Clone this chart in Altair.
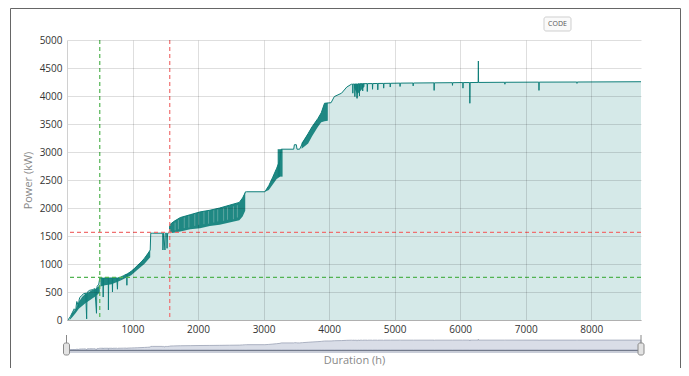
import altair as alt
import pandas as pd

# ---- main duration curve (top edge, with individual dips/spikes) ----
line_h = [0, 15, 50, 80, 110, 135, 140, 150, 175, 185, 195, 225, 255, 285, 300, 305, 310, 345, 385, 405,
          425, 450, 455, 460, 485, 500, 510,
          550, 552, 556, 630, 632, 636, 690, 694, 698, 760, 770, 775, 810,
          860, 910, 914, 918, 980, 1030, 1080, 1130, 1180, 1230, 1270, 1278,
          1300, 1460, 1464, 1475, 1495, 1500, 1520, 1527, 1535, 1562, 1568,
          1630, 1730, 1880, 2030, 2180, 2330, 2480, 2630, 2680, 2710, 2725,
          2740, 3020, 3080, 3140, 3200, 3250, 3270,
          3460, 3470, 3500, 3510, 3550, 3595, 3680, 3740, 3830, 3880, 3930, 4030, 4080, 4190, 4270, 4340,
          4360, 4362, 4365, 4390, 4393, 4398, 4420, 4423, 4430, 4435, 4460, 4463, 4467, 4510, 4513, 4517,
          4580, 4583, 4587, 4660, 4663, 4667, 4740, 4743, 4747, 4830, 4833, 4837, 4930, 4933, 4937,
          5080, 5083, 5087, 5280, 5283, 5287, 5600, 5603, 5607, 5880, 5883, 5887, 6040, 6043, 6047,
          6145, 6148, 6152, 6275, 6278, 6281, 6680, 6683, 6687, 7200, 7203, 7207, 7780, 7783, 7787, 8760]
line_p = [0, 0, 60, 130, 200, 170, 250, 330, 240, 360, 400, 440, 470, 480, 20, 480, 500, 530, 540, 550,
          560, 120, 560, 600, 640, 750, 750,
          750, 410, 750, 750, 180, 750, 750, 500, 750, 750, 550, 750, 760,
          790, 820, 620, 820, 870, 920, 980, 1030, 1100, 1180, 1250, 1550,
          1550, 1550, 1250, 1550, 1250, 1550, 1550, 1280, 1550, 1560, 1700,
          1760, 1830, 1880, 1930, 1960, 2000, 2050, 2100, 2180, 2250, 2290,
          2290, 2290, 2400, 2550, 2710, 2860, 3050,
          3050, 3130, 3130, 3050, 3050, 3160, 3330, 3450, 3600, 3700, 3870, 3880, 3990, 4050, 4160, 4210,
          4212, 4050, 4212, 4214, 3990, 4214, 4216, 3960, 3960, 4216, 4218, 4000, 4218, 4220, 4090, 4220,
          4221, 4080, 4221, 4222, 4120, 4222, 4224, 4110, 4224, 4225, 4140, 4225, 4227, 4160, 4227,
          4230, 4170, 4230, 4232, 4180, 4232, 4235, 4100, 4235, 4238, 4190, 4238, 4240, 4140, 4240,
          4240, 3870, 4240, 4242, 4625, 4242, 4245, 4210, 4245, 4248, 4100, 4248, 4250, 4225, 4250, 4255]

# ---- dense (noisy) bands: lower and upper envelope ----
band_grp = [1] * 11 + [2] * 4 + [3] * 6 + [4] * 11 + [5] * 5 + [6] * 2 + [7] * 7 + [8] * 4
band_h = [40, 80, 130, 180, 230, 280, 330, 380, 430, 480, 500,
          510, 580, 680, 810,
          810, 880, 980, 1080, 1180, 1270,
          1568, 1630, 1730, 1880, 2030, 2180, 2330, 2480, 2630, 2680, 2720,
          3020, 3080, 3140, 3200, 3250,
          3215, 3290,
          3580, 3680, 3740, 3830, 3880, 3930, 3980,
          4380, 4430, 4470, 4540]
band_lo = [0, 50, 120, 200, 250, 300, 340, 380, 420, 470, 500,
           600, 620, 640, 700,
           700, 740, 800, 900, 1000, 1120,
           1550, 1560, 1580, 1620, 1640, 1680, 1700, 1740, 1780, 1850, 1950,
           2290, 2320, 2420, 2520, 2560,
           2560, 2560,
           3060, 3150, 3280, 3450, 3530, 3550, 3560,
           4150, 4030, 4080, 4170]
band_hi = [20, 130, 190, 320, 410, 470, 495, 530, 555, 600, 640,
           750, 750, 750, 760,
           760, 800, 870, 980, 1100, 1250,
           1700, 1760, 1830, 1880, 1930, 1960, 2000, 2050, 2100, 2180, 2290,
           2290, 2400, 2550, 2710, 2860,
           3050, 3050,
           3160, 3330, 3450, 3600, 3700, 3870, 3880,
           4214, 4216, 4218, 4220]

# ---- light streaks inside the dense band (dips that show the fill) ----
streak_h = [1650, 1700, 1790, 1860, 1950, 2010, 2090, 2160, 2240, 2300, 2390, 2450, 2540, 2600]
streak_lo = [1600, 1620, 1640, 1650, 1680, 1700, 1710, 1720, 1740, 1760, 1770, 1790, 1800, 1830]
streak_hi = [1740, 1790, 1830, 1860, 1890, 1910, 1930, 1945, 1960, 1975, 1995, 2010, 2030, 2050]

# ---- reference lines ----
green_v, red_v = 500, 1568
green_h, red_h = 760, 1565

x_ticks = [1000, 2000, 3000, 4000, 5000, 6000, 7000, 8000]
y_ticks = [0, 500, 1000, 1500, 2000, 2500, 3000, 3500, 4000, 4500, 5000]

TEAL = "#0f7f7a"
FILL = "#d5e9e8"
GREEN = "#52b452"
RED = "#f07070"
FONT = "Open Sans"

line_df = pd.DataFrame({"h": line_h, "p": line_p})
band_df = pd.DataFrame({"g": band_grp, "h": band_h, "lo": band_lo, "hi": band_hi})
streak_df = pd.DataFrame({"h": streak_h, "lo": streak_lo, "hi": streak_hi})

xs = alt.Scale(domain=[0, 8760], nice=False, zero=False)
ys = alt.Scale(domain=[0, 5000], nice=False)

xaxis = alt.Axis(values=x_ticks, format="d", title="Duration (h)", grid=True,
                 gridColor="rgba(0,0,0,0.13)",
                 ticks=False, domainColor="#b0b0b0", labelPadding=4, labelFontSize=10,
                 labelColor="#333", labelFont=FONT, titleFont=FONT, titleFontSize=11,
                 titleFontWeight="normal", titleColor="#888", titlePadding=20, zindex=1)
yaxis = alt.Axis(values=y_ticks, format="d", title="Power (kW)", grid=True,
                 gridColor="rgba(0,0,0,0.13)", labelOverlap=False,
                 ticks=False, domainColor="#d0d0d0", labelPadding=5, labelFontSize=10,
                 labelColor="#333", labelFont=FONT, titleFont=FONT, titleFontSize=11,
                 titleFontWeight="normal", titleColor="#888", titlePadding=6, zindex=1)

X = alt.X("h:Q", scale=xs, axis=xaxis)

area = alt.Chart(line_df).mark_area(color=FILL, opacity=1).encode(
    x=X, y=alt.Y("p:Q", scale=ys, axis=yaxis),
)
band = alt.Chart(band_df).mark_area(color=TEAL, opacity=0.92).encode(
    x=X, y=alt.Y("lo:Q", scale=ys, axis=yaxis), y2="hi:Q", detail="g:N",
)
streaks = alt.Chart(streak_df).mark_rule(color="#5aa5a0", strokeWidth=1).encode(
    x=X, y=alt.Y("lo:Q", scale=ys, axis=yaxis), y2="hi:Q",
)
line = alt.Chart(line_df).mark_line(color=TEAL, strokeWidth=1).encode(
    x=X, y=alt.Y("p:Q", scale=ys, axis=yaxis),
)
gv = alt.Chart().mark_rule(strokeDash=[4, 3], strokeWidth=1.2, color=GREEN).encode(
    x=alt.X(datum=green_v, scale=xs, axis=xaxis))
rv = alt.Chart().mark_rule(strokeDash=[4, 3], strokeWidth=1.2, color=RED).encode(
    x=alt.X(datum=red_v, scale=xs, axis=xaxis))
gh = alt.Chart().mark_rule(strokeDash=[4, 3], strokeWidth=1.2, color=GREEN).encode(
    y=alt.Y(datum=green_h, scale=ys, axis=yaxis))
rh = alt.Chart().mark_rule(strokeDash=[4, 3], strokeWidth=1.2, color=RED).encode(
    y=alt.Y(datum=red_h, scale=ys, axis=yaxis))

# frame and "CODE" button (decoration)
frame_l = alt.Chart().mark_rule(color="#666", strokeWidth=1).encode(
    x=alt.value(-56.5), y=alt.value(-31.5), y2=alt.value(330))
frame_t = alt.Chart().mark_rule(color="#666", strokeWidth=1).encode(
    x=alt.value(-56.5), x2=alt.value(613.5), y=alt.value(-31.5))
frame_r = alt.Chart().mark_rule(color="#666", strokeWidth=1).encode(
    x=alt.value(613.5), y=alt.value(-31.5), y2=alt.value(330))
code_box = alt.Chart().mark_rect(fill="#fafafa", stroke="#cfcfcf", cornerRadius=2).encode(
    x=alt.value(477), x2=alt.value(504), y=alt.value(-23), y2=alt.value(-9))
code_txt = alt.Chart().mark_text(text="CODE", fontSize=7, font=FONT, color="#555").encode(
    x=alt.value(490.5), y=alt.value(-16))

main = alt.layer(area, band, streaks, line, gv, rv, gh, rh,
                 frame_l, frame_t, frame_r, code_box, code_txt)

# navigator (range slider) under the axis
track = alt.Chart().mark_rect(fill="#c9cdd8").encode(
    x=alt.value(0), x2=alt.value(574), y=alt.value(309), y2=alt.value(313))
nav_area = alt.Chart(line_df).mark_area(fill="#d9dde7", stroke="#9aa2b5", strokeWidth=0.8).encode(
    x=X,
    y=alt.Y("p:Q", scale=alt.Scale(domain=[0, 4300], range=[310, 300], nice=False), axis=None),
)
track_line = alt.Chart().mark_rule(color="#737a8c", strokeWidth=1.2).encode(
    x=alt.value(0), x2=alt.value(574), y=alt.value(310.5))
h_l_tick = alt.Chart().mark_rule(color="#888", strokeWidth=1).encode(
    x=alt.value(-0.5), y=alt.value(295), y2=alt.value(303))
h_r_tick = alt.Chart().mark_rule(color="#888", strokeWidth=1).encode(
    x=alt.value(574), y=alt.value(295), y2=alt.value(303))
h_l = alt.Chart().mark_rect(fill="#e3e3e3", stroke="#8a8a8a", cornerRadius=2).encode(
    x=alt.value(-3.5), x2=alt.value(2.5), y=alt.value(303), y2=alt.value(315))
h_r = alt.Chart().mark_rect(fill="#e3e3e3", stroke="#8a8a8a", cornerRadius=2).encode(
    x=alt.value(571), x2=alt.value(577), y=alt.value(303), y2=alt.value(315))

nav = alt.layer(track, nav_area, track_line, h_l_tick, h_r_tick, h_l, h_r)

chart = alt.layer(main, nav).resolve_scale(y="independent").properties(
    width=574, height=280,
    autosize=alt.AutoSizeParams(type="none"),
    padding={"left": 59, "top": 32, "right": 40, "bottom": 48},
).configure_view(stroke=None)

chart.save("out.html", embed_options={"renderer": "svg", "actions": False})
